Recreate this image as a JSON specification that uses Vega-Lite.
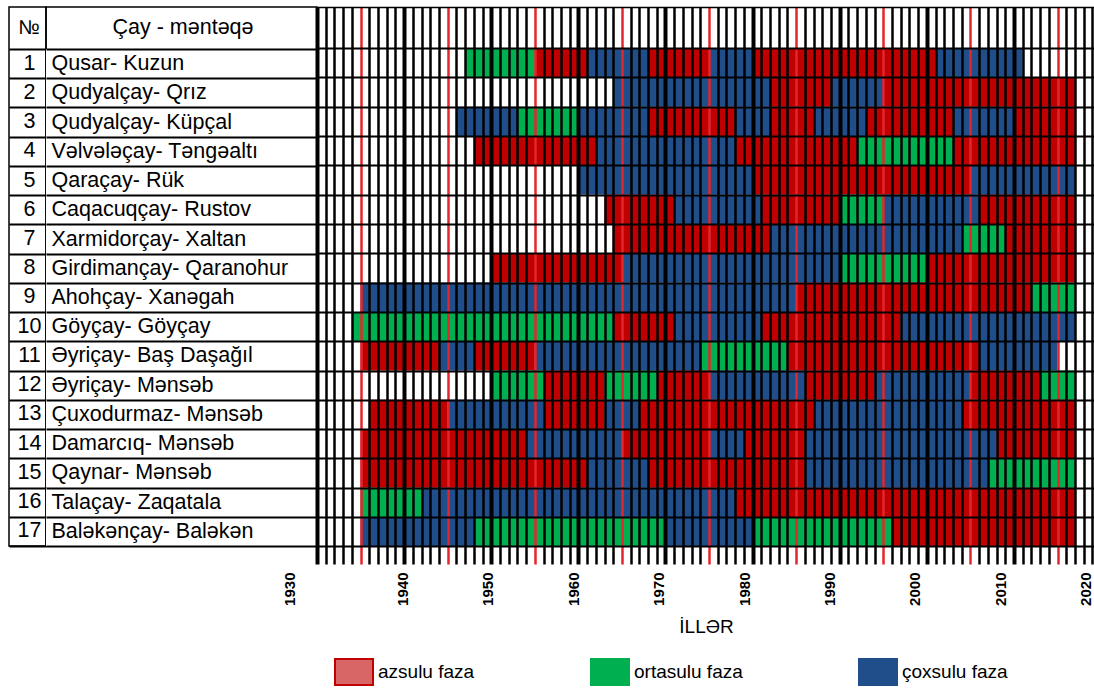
{
  "$schema": "https://vega.github.io/schema/vega-lite/v6.json",
  "padding": {"left": 8, "top": -5, "right": 0, "bottom": 0},
  "background": "white",
  "spacing": 0,
  "bounds": "flush",
  "config": {
    "font": "Liberation Sans",
    "view": {"stroke": "black", "strokeWidth": 1.5},
    "axis": {"labelFont": "Liberation Sans", "titleFont": "Liberation Sans", "labelColor": "black", "titleColor": "black"},
    "legend": {"labelFont": "Liberation Sans", "labelColor": "black"}
  },
  "datasets": {
    "stations": [
      {"no": 1, "name": "Qusar- Kuzun"},
      {"no": 2, "name": "Qudyalçay- Qrız"},
      {"no": 3, "name": "Qudyalçay- Küpçal"},
      {"no": 4, "name": "Vəlvələçay- Təngəaltı"},
      {"no": 5, "name": "Qaraçay- Rük"},
      {"no": 6, "name": "Caqacuqçay- Rustov"},
      {"no": 7, "name": "Xarmidorçay- Xaltan"},
      {"no": 8, "name": "Girdimançay- Qaranohur"},
      {"no": 9, "name": "Ahohçay- Xanəgah"},
      {"no": 10, "name": "Göyçay- Göyçay"},
      {"no": 11, "name": "Əyriçay- Baş Daşağıl"},
      {"no": 12, "name": "Əyriçay- Mənsəb"},
      {"no": 13, "name": "Çuxodurmaz- Mənsəb"},
      {"no": 14, "name": "Damarcıq- Mənsəb"},
      {"no": 15, "name": "Qaynar- Mənsəb"},
      {"no": 16, "name": "Talaçay- Zaqatala"},
      {"no": 17, "name": "Baləkənçay- Baləkən"}
    ],
    "phases": [
      {"no": 1, "start": 1947, "end": 1955, "phase": "ortasulu faza"},
      {"no": 1, "start": 1955, "end": 1961, "phase": "azsulu faza"},
      {"no": 1, "start": 1961, "end": 1968, "phase": "çoxsulu faza"},
      {"no": 1, "start": 1968, "end": 1975, "phase": "azsulu faza"},
      {"no": 1, "start": 1975, "end": 1980, "phase": "çoxsulu faza"},
      {"no": 1, "start": 1980, "end": 2001, "phase": "azsulu faza"},
      {"no": 1, "start": 2001, "end": 2011, "phase": "çoxsulu faza"},
      {"no": 2, "start": 1964, "end": 1982, "phase": "çoxsulu faza"},
      {"no": 2, "start": 1982, "end": 1989, "phase": "azsulu faza"},
      {"no": 2, "start": 1989, "end": 1995, "phase": "çoxsulu faza"},
      {"no": 2, "start": 1995, "end": 2017, "phase": "azsulu faza"},
      {"no": 3, "start": 1946, "end": 1953, "phase": "çoxsulu faza"},
      {"no": 3, "start": 1953, "end": 1960, "phase": "ortasulu faza"},
      {"no": 3, "start": 1960, "end": 1968, "phase": "çoxsulu faza"},
      {"no": 3, "start": 1968, "end": 1978, "phase": "azsulu faza"},
      {"no": 3, "start": 1978, "end": 1982, "phase": "çoxsulu faza"},
      {"no": 3, "start": 1982, "end": 1987, "phase": "azsulu faza"},
      {"no": 3, "start": 1987, "end": 1993, "phase": "çoxsulu faza"},
      {"no": 3, "start": 1993, "end": 2003, "phase": "azsulu faza"},
      {"no": 3, "start": 2003, "end": 2010, "phase": "çoxsulu faza"},
      {"no": 3, "start": 2010, "end": 2017, "phase": "azsulu faza"},
      {"no": 4, "start": 1948, "end": 1962, "phase": "azsulu faza"},
      {"no": 4, "start": 1962, "end": 1978, "phase": "çoxsulu faza"},
      {"no": 4, "start": 1978, "end": 1992, "phase": "azsulu faza"},
      {"no": 4, "start": 1992, "end": 2003, "phase": "ortasulu faza"},
      {"no": 4, "start": 2003, "end": 2017, "phase": "azsulu faza"},
      {"no": 5, "start": 1960, "end": 1980, "phase": "çoxsulu faza"},
      {"no": 5, "start": 1980, "end": 2005, "phase": "azsulu faza"},
      {"no": 5, "start": 2005, "end": 2017, "phase": "çoxsulu faza"},
      {"no": 6, "start": 1963, "end": 1971, "phase": "azsulu faza"},
      {"no": 6, "start": 1971, "end": 1981, "phase": "çoxsulu faza"},
      {"no": 6, "start": 1981, "end": 1990, "phase": "azsulu faza"},
      {"no": 6, "start": 1990, "end": 1995, "phase": "ortasulu faza"},
      {"no": 6, "start": 1995, "end": 2006, "phase": "çoxsulu faza"},
      {"no": 6, "start": 2006, "end": 2017, "phase": "azsulu faza"},
      {"no": 7, "start": 1964, "end": 1982, "phase": "azsulu faza"},
      {"no": 7, "start": 1982, "end": 2004, "phase": "çoxsulu faza"},
      {"no": 7, "start": 2004, "end": 2009, "phase": "ortasulu faza"},
      {"no": 7, "start": 2009, "end": 2017, "phase": "azsulu faza"},
      {"no": 8, "start": 1950, "end": 1965, "phase": "azsulu faza"},
      {"no": 8, "start": 1965, "end": 1990, "phase": "çoxsulu faza"},
      {"no": 8, "start": 1990, "end": 2000, "phase": "ortasulu faza"},
      {"no": 8, "start": 2000, "end": 2017, "phase": "azsulu faza"},
      {"no": 9, "start": 1935, "end": 1985, "phase": "çoxsulu faza"},
      {"no": 9, "start": 1985, "end": 2012, "phase": "azsulu faza"},
      {"no": 9, "start": 2012, "end": 2017, "phase": "ortasulu faza"},
      {"no": 10, "start": 1934, "end": 1964, "phase": "ortasulu faza"},
      {"no": 10, "start": 1964, "end": 1971, "phase": "azsulu faza"},
      {"no": 10, "start": 1971, "end": 1981, "phase": "çoxsulu faza"},
      {"no": 10, "start": 1981, "end": 1997, "phase": "azsulu faza"},
      {"no": 10, "start": 1997, "end": 2017, "phase": "çoxsulu faza"},
      {"no": 11, "start": 1935, "end": 1944, "phase": "azsulu faza"},
      {"no": 11, "start": 1944, "end": 1948, "phase": "çoxsulu faza"},
      {"no": 11, "start": 1948, "end": 1955, "phase": "azsulu faza"},
      {"no": 11, "start": 1955, "end": 1974, "phase": "çoxsulu faza"},
      {"no": 11, "start": 1974, "end": 1984, "phase": "ortasulu faza"},
      {"no": 11, "start": 1984, "end": 2006, "phase": "azsulu faza"},
      {"no": 11, "start": 2006, "end": 2015, "phase": "çoxsulu faza"},
      {"no": 12, "start": 1950, "end": 1956, "phase": "ortasulu faza"},
      {"no": 12, "start": 1956, "end": 1963, "phase": "azsulu faza"},
      {"no": 12, "start": 1963, "end": 1969, "phase": "ortasulu faza"},
      {"no": 12, "start": 1969, "end": 1975, "phase": "azsulu faza"},
      {"no": 12, "start": 1975, "end": 1986, "phase": "çoxsulu faza"},
      {"no": 12, "start": 1986, "end": 1994, "phase": "azsulu faza"},
      {"no": 12, "start": 1994, "end": 2005, "phase": "çoxsulu faza"},
      {"no": 12, "start": 2005, "end": 2013, "phase": "azsulu faza"},
      {"no": 12, "start": 2013, "end": 2017, "phase": "ortasulu faza"},
      {"no": 13, "start": 1936, "end": 1945, "phase": "azsulu faza"},
      {"no": 13, "start": 1945, "end": 1956, "phase": "çoxsulu faza"},
      {"no": 13, "start": 1956, "end": 1963, "phase": "azsulu faza"},
      {"no": 13, "start": 1963, "end": 1967, "phase": "çoxsulu faza"},
      {"no": 13, "start": 1967, "end": 1987, "phase": "azsulu faza"},
      {"no": 13, "start": 1987, "end": 2004, "phase": "çoxsulu faza"},
      {"no": 13, "start": 2004, "end": 2017, "phase": "azsulu faza"},
      {"no": 14, "start": 1935, "end": 1954, "phase": "azsulu faza"},
      {"no": 14, "start": 1954, "end": 1965, "phase": "çoxsulu faza"},
      {"no": 14, "start": 1965, "end": 1975, "phase": "azsulu faza"},
      {"no": 14, "start": 1975, "end": 1979, "phase": "çoxsulu faza"},
      {"no": 14, "start": 1979, "end": 1986, "phase": "azsulu faza"},
      {"no": 14, "start": 1986, "end": 2008, "phase": "çoxsulu faza"},
      {"no": 14, "start": 2008, "end": 2017, "phase": "azsulu faza"},
      {"no": 15, "start": 1935, "end": 1961, "phase": "azsulu faza"},
      {"no": 15, "start": 1961, "end": 1968, "phase": "çoxsulu faza"},
      {"no": 15, "start": 1968, "end": 1986, "phase": "azsulu faza"},
      {"no": 15, "start": 1986, "end": 2007, "phase": "çoxsulu faza"},
      {"no": 15, "start": 2007, "end": 2017, "phase": "ortasulu faza"},
      {"no": 16, "start": 1935, "end": 1942, "phase": "ortasulu faza"},
      {"no": 16, "start": 1942, "end": 1978, "phase": "çoxsulu faza"},
      {"no": 16, "start": 1978, "end": 2017, "phase": "azsulu faza"},
      {"no": 17, "start": 1935, "end": 1948, "phase": "çoxsulu faza"},
      {"no": 17, "start": 1948, "end": 1970, "phase": "ortasulu faza"},
      {"no": 17, "start": 1970, "end": 1980, "phase": "çoxsulu faza"},
      {"no": 17, "start": 1980, "end": 1996, "phase": "ortasulu faza"},
      {"no": 17, "start": 1996, "end": 2017, "phase": "azsulu faza"}
    ],
    "decades": [
      {"year": 1930}, {"year": 1940}, {"year": 1950}, {"year": 1960}, {"year": 1970},
      {"year": 1980}, {"year": 1990}, {"year": 2000}, {"year": 2010}, {"year": 2020}
    ]
  },
  "hconcat": [
    {
      "width": 37,
      "height": 539,
      "data": {"name": "stations"},
      "mark": {"type": "text", "fontSize": 21.5, "baseline": "middle", "color": "black", "dx": 2},
      "encoding": {
        "y": {
          "field": "no", "type": "ordinal", "sort": "ascending",
          "scale": {"type": "band", "paddingInner": 0, "paddingOuter": 0.7181, "align": 1},
          "axis": {
            "title": "№", "titleAngle": 0, "titleX": 19.5, "titleY": 20,
            "titleAlign": "center", "titleBaseline": "middle",
            "titleFontSize": 20, "titleFontWeight": "normal",
            "labels": false, "ticks": false, "domain": false,
            "grid": true, "tickBand": "extent", "gridColor": "black", "gridWidth": 2, "gridOpacity": 1,
            "zindex": 1
          }
        },
        "text": {"field": "no"}
      }
    },
    {
      "width": 271,
      "height": 539,
      "data": {"name": "stations"},
      "mark": {"type": "rect", "fill": "white"},
      "encoding": {
        "y": {
          "field": "name", "type": "nominal", "sort": null,
          "scale": {"type": "band", "paddingInner": 0, "paddingOuter": 0.7181, "align": 1},
          "axis": {
            "title": "Çay - məntəqə", "titleAngle": 0, "titleX": 136.5, "titleY": 20,
            "titleAlign": "center", "titleBaseline": "middle",
            "titleFontSize": 21.5, "titleFontWeight": "normal",
            "labels": true, "labelAlign": "left", "labelBaseline": "middle", "labelPadding": -5,
            "labelFontSize": 21.5, "labelLimit": 0,
            "ticks": false, "domain": false,
            "grid": true, "tickBand": "extent", "gridColor": "black", "gridWidth": 2, "gridOpacity": 1,
            "zindex": 1
          }
        }
      }
    },
    {
      "width": 778,
      "height": 557,
      "view": {"stroke": null},
      "layer": [
        {
          "data": {"name": "phases"},
          "mark": {"type": "rect"},
          "encoding": {
            "x": {
              "field": "start", "type": "quantitative",
              "scale": {"domain": [1930, 2019.3], "nice": false, "zero": false},
              "axis": {
                "orient": "top", "title": null, "labels": false, "ticks": false,
                "domain": true, "domainColor": "black", "domainWidth": 1.5,
                "grid": true, "tickCount": 90, "gridOpacity": 1,
                "gridColor": {"condition": {"test": "datum.value % 10 !== 0 && datum.value % 5 === 0", "value": "#e3262b"}, "value": "black"},
                "gridWidth": {"condition": {"test": "datum.value % 10 === 0", "value": 4}, "value": 2.5},
                "zindex": 1
              }
            },
            "x2": {"field": "end"},
            "y": {
              "field": "no", "type": "ordinal", "sort": "ascending",
              "scale": {"type": "band", "paddingInner": 0, "paddingOuter": 1.026, "align": 0.7},
              "axis": {
                "title": null, "labels": false, "ticks": false, "domain": false,
                "grid": true, "tickBand": "extent", "gridColor": "black", "gridWidth": 2, "gridOpacity": 1,
                "zindex": 1
              }
            },
            "color": {
              "field": "phase", "type": "nominal",
              "scale": {"domain": ["azsulu faza", "ortasulu faza", "çoxsulu faza"], "range": ["#C00000", "#00B050", "#1F4E8B"]},
              "legend": {
                "title": null, "orient": "none", "legendX": 325, "legendY": 645,
                "direction": "horizontal", "columns": 3, "padding": 0,
                "symbolType": "M-1,-0.68H1V0.68H-1Z", "symbolSize": 1444,
                "labelFontSize": 19, "labelOffset": 4, "columnPadding": 112, "labelLimit": 0,
                "encode": {
                  "symbols": {
                    "update": {
                      "strokeWidth": {"value": 2},
                      "fillOpacity": [{"test": "datum.value === 'azsulu faza'", "value": 0.6}, {"value": 1}],
                      "stroke": [
                        {"test": "datum.value === 'azsulu faza'", "value": "#C00000"},
                        {"test": "datum.value === 'ortasulu faza'", "value": "#00B050"},
                        {"value": "#1F4E8B"}
                      ]
                    }
                  }
                }
              }
            }
          }
        },
        {
          "data": {"name": "decades"},
          "mark": {"type": "rule", "strokeOpacity": 0},
          "encoding": {
            "x": {
              "field": "year", "type": "quantitative",
              "scale": {"domain": [1930, 2021.1], "nice": false, "zero": false},
              "axis": {
                "orient": "bottom", "tickCount": 10, "format": "d",
                "labelAngle": 270, "labelFontSize": 15, "labelFontWeight": "bold",
                "labelPadding": 8, "labelFlush": false, "labelOverlap": false,
                "labelOffset": {"condition": {"test": "datum.value === 1930", "value": -28}, "value": 0},
                "ticks": false, "domain": false, "grid": false,
                "title": "İLLƏR", "titleFontSize": 19, "titleFontWeight": "normal", "titlePadding": 12
              }
            }
          }
        }
      ],
      "resolve": {"scale": {"x": "independent"}, "axis": {"x": "independent"}}
    }
  ]
}
